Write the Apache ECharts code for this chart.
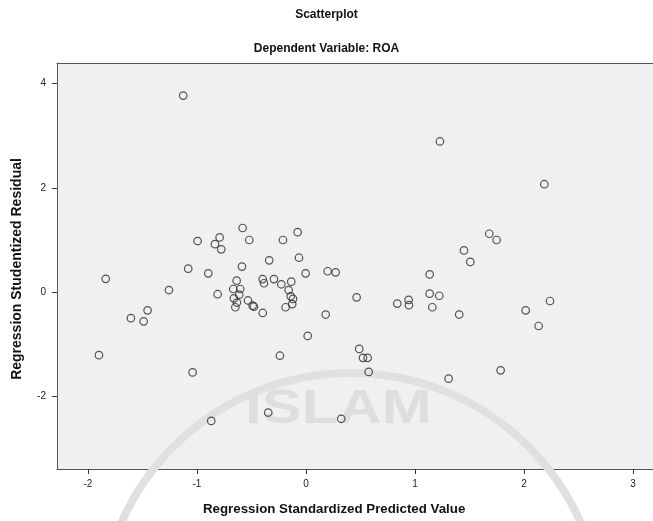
<!DOCTYPE html>
<html>
<head>
<meta charset="utf-8">
<script src="https://cdn.jsdelivr.net/npm/echarts@6/dist/echarts.min.js"></script>
<style>
html,body{margin:0;padding:0;background:#fff;}
#chart{width:653px;height:521px;}
</style>
</head>
<body>
<div id="chart"></div>
<script>
// Regression standardized predicted value (x) and studentized residual (y)
var predicted = [
  -1.126, -0.994, -0.835, -0.792, -0.777, -0.581, -0.520,
  -1.837, -1.080, -0.896, -0.587, -1.257, -0.810, -0.636,
  -0.667, -0.603, -0.612, -0.661, -0.633, -0.648, -0.532, -0.489, -0.477,
  -1.453, -1.606, -1.489, -1.899, -1.040, -0.869,
  -0.397, -0.385, -0.397, -0.337, -0.294, -0.226, -0.211, -0.076, -0.064,
  -0.135, -0.159, -0.140, -0.119, -0.126, -0.186, -0.003, 0.199, 0.272,
  0.181, 0.016, -0.239, 0.465, 0.489, 0.523, 0.566, 0.575,
  0.838, 0.942, 0.945, 1.135, 1.135, 1.159, 1.223,
  -0.346, 0.324,
  1.229, 2.187, 1.682, 1.749, 1.450, 1.508, 1.406, 2.016, 2.239, 2.135, 1.786, 1.309
];
var residual = [
  3.77, 0.98, 0.92, 1.05, 0.82, 1.23, 1.00,
  0.255, 0.45, 0.36, 0.49, 0.04, -0.04, 0.22,
  0.06, 0.06, -0.05, -0.12, -0.20, -0.29, -0.16, -0.26, -0.28,
  -0.35, -0.50, -0.56, -1.21, -1.54, -2.47,
  0.25, 0.17, -0.40, 0.61, 0.25, 0.15, 1.00, 1.15, 0.66,
  0.20, 0.04, -0.08, -0.13, -0.23, -0.29, 0.36, 0.40, 0.38,
  -0.43, -0.84, -1.22, -0.10, -1.09, -1.26, -1.26, -1.53,
  -0.22, -0.15, -0.25, 0.34, -0.03, -0.29, -0.07,
  -2.31, -2.43,
  2.89, 2.07, 1.12, 1.00, 0.80, 0.58, -0.43, -0.35, -0.17, -0.65, -1.50, -1.66
];
var xTicks = [-2, -1, 0, 1, 2, 3];
var yTicks = [-2, 0, 2, 4];

var points = predicted.map(function (v, i) { return [v, residual[i]]; });
var font = '"Liberation Sans", Arial, sans-serif';
var frame = {show: true, onZero: false, lineStyle: {color: '#555', width: 1}};

var chart = echarts.init(document.getElementById('chart'), null, {renderer: 'canvas'});
chart.setOption({
  backgroundColor: '#ffffff',
  animation: false,
  title: [
    {text: 'Scatterplot', left: 'center', top: 4,
     textStyle: {fontFamily: font, fontSize: 12, fontWeight: 'bold', color: '#111'}},
    {text: 'Dependent Variable: ROA', left: 'center', top: 38,
     textStyle: {fontFamily: font, fontSize: 12, fontWeight: 'bold', color: '#111'}}
  ],
  grid: {
    left: 57, top: 63, right: 0, height: 406,
    show: true, backgroundColor: '#f0f0f0', borderWidth: 0
  },
  xAxis: [{
    type: 'value', min: -2.284, max: 3.184,
    splitLine: {show: false},
    axisLine: frame,
    axisTick: {show: true, customValues: xTicks, length: 5, lineStyle: {color: '#333'}},
    axisLabel: {customValues: xTicks, fontFamily: font, fontSize: 10, color: '#222', margin: 10}
  }, {
    type: 'value', position: 'top', min: -2.284, max: 3.184,
    splitLine: {show: false},
    axisLine: frame,
    axisTick: {show: false},
    axisLabel: {show: false}
  }],
  yAxis: {
    type: 'value', min: -3.393, max: 4.395,
    splitLine: {show: false},
    axisLine: frame,
    axisTick: {show: true, customValues: yTicks, length: 5, lineStyle: {color: '#333'}},
    axisLabel: {customValues: yTicks, fontFamily: font, fontSize: 10, color: '#222', margin: 11}
  },
  graphic: [
    {type: 'circle', z: 1, silent: true,
     shape: {cx: 351, cy: 624, r: 251},
     style: {fill: 'none', stroke: '#e0e0e0', lineWidth: 8}},
    {type: 'text', z: 1, silent: true, x: 245, y: 386, scaleX: 1.25,
     style: {text: 'ISLAM', font: 'bold 48px ' + font, fill: '#dedede'}},
    {type: 'text', left: 203, top: 503, z: 10,
     style: {text: 'Regression Standardized Predicted Value', font: 'bold 13.3px ' + font, fill: '#111'}},
    {type: 'text', x: 17, y: 269, rotation: Math.PI / 2, z: 10,
     style: {text: 'Regression Studentized Residual', font: 'bold 14px ' + font, fill: '#111',
             align: 'center', verticalAlign: 'middle'}}
  ],
  series: [{
    type: 'scatter',
    z: 5,
    xAxisIndex: 0,
    data: points,
    symbol: 'circle',
    symbolSize: 7.5,
    itemStyle: {color: 'rgba(0,0,0,0)', borderColor: '#2a2a2a', borderWidth: 1.2}
  }]
});
</script>
</body>
</html>
